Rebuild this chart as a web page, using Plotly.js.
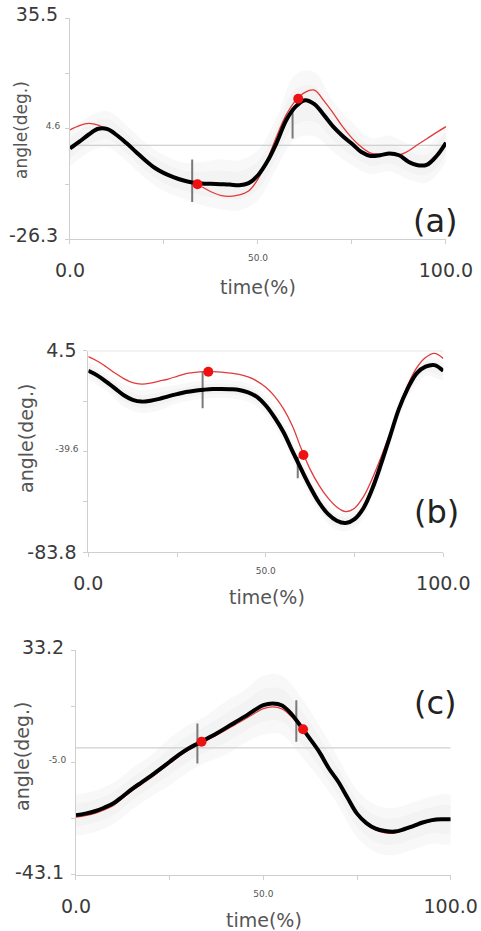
<!DOCTYPE html>
<html><head><meta charset="utf-8">
<script src="https://cdn.plot.ly/plotly-3.0.1.min.js"></script>
<style>html,body{margin:0;padding:0;background:#fff;}#chart{width:481px;height:931px;}</style>
</head><body><div id="chart"></div>
<script>
// ---------- data ----------
const timePct = [0,2.5,5,7.5,10,12.5,15,17.5,20,22.5,25,27.5,30,32.5,35,37.5,40,42.5,45,47.5,50,
                 52.5,55,57.5,60,62.5,65,67.5,70,72.5,75,77.5,80,82.5,85,87.5,90,92.5,95,97.5,100];
const sdTime = [0,5,10,15,20,25,30,35,40,45,50,55,60,65,70,75,80,85,90,95,100];

// panel (a)
const meanA = [-0.9,1.0,3.0,4.6,4.5,2.8,0.6,-1.8,-4.2,-6.3,-7.8,-8.9,-9.8,-10.4,-10.7,-10.8,-10.9,-11.0,-11.2,-10.6,-8.4,
               -4.5,0.8,7.0,10.8,12.6,11.5,8.5,5.2,2.6,0.4,-1.9,-3.0,-2.8,-2.3,-2.8,-4.6,-5.6,-5.4,-3.0,0.7];
const refA  = [4.3,5.5,6.1,5.6,4.3,2.7,0.5,-1.8,-4.1,-6.1,-7.6,-8.8,-9.8,-10.6,-11.6,-13.0,-14.0,-14.3,-13.9,-12.8,-9.5,
               -4.0,2.6,8.5,12.5,14.8,15.4,12.5,9.0,5.2,2.0,-0.5,-2.2,-2.5,-2.5,-2.7,-1.6,0.2,1.9,3.6,5.2];
const sdA   = [5,5,5,5,5,5,5,6,7,7,7,7,9,9,7,6,5,5,5,5,5];
const dotsA_x = [33.9, 60.7], dotsA_y = [-10.9, 13.0];
const barsA_x = [32.5, 59.2], barsA_lo = [-15.9, 1.9], barsA_hi = [-4.0, 10.0];

// panel (b)
const meanB = [-4.3,-6.3,-9.0,-12.0,-15.0,-17.0,-17.8,-17.4,-16.6,-15.5,-14.5,-13.6,-13.0,-12.6,-12.3,-12.3,-12.4,-12.7,-13.8,-15.7,-19.5,
               -24.8,-31.2,-39.5,-47.5,-55.2,-62.0,-67.0,-70.0,-71.0,-69.3,-64.5,-56.0,-45.0,-33.0,-21.0,-12.0,-5.4,-2.5,-1.8,-4.3];
const refB  = [1.9,0.0,-2.5,-5.3,-7.7,-9.5,-10.1,-9.7,-8.8,-7.9,-6.7,-5.5,-5.0,-4.7,-4.7,-4.9,-5.3,-5.9,-7.0,-8.8,-11.5,
               -15.5,-21.0,-28.5,-38.5,-47.5,-54.5,-60.0,-64.0,-66.0,-64.5,-59.5,-51.5,-42.0,-31.7,-20.5,-10.5,-3.0,1.5,3.3,1.1];
const sdB   = [4,4,5,5,5,4,4,4,4,4,4,4,4,4,4,4,4,4,4,4,4];
const dotsB_x = [33.8, 60.6], dotsB_y = [-4.7, -41.2];
const barsB_x = [32.2, 59.0], barsB_lo = [-20.7, -51.4], barsB_hi = [-4.7, -41.9];

// panel (c)
const meanC = [-22.8,-22.3,-21.5,-20.3,-18.8,-16.4,-13.9,-11.7,-9.5,-7.1,-4.7,-2.3,-0.2,1.5,3.2,4.9,6.8,8.7,10.6,12.7,14.5,
               15.1,14.4,11.5,7.3,3.0,-1.5,-7.0,-11.5,-17.0,-22.3,-25.5,-27.4,-28.2,-28.4,-27.6,-26.5,-25.3,-24.5,-24.2,-24.2];
const refC  = [-23.5,-23.0,-22.2,-21.0,-19.5,-17.0,-14.5,-12.3,-10.1,-7.7,-5.3,-2.9,-0.8,1.0,2.6,4.3,6.1,7.9,9.7,11.6,13.3,
               13.9,13.2,10.6,6.8,2.6,-1.8,-7.2,-11.7,-17.2,-22.5,-25.9,-27.9,-28.8,-28.9,-28.0,-26.9,-25.6,-24.8,-24.4,-24.3];
const sdC   = [7,7,7,7,7,8,8,8,9,9,10,10,10,9,8,8,8,8,8,8,8];
const dotsC_x = [33.5, 60.6], dotsC_y = [2.1, 6.3];
const barsC_x = [32.4, 58.8], barsC_lo = [-5.3, 2.1], barsC_hi = [8.3, 16.2];

// axes ranges and tick labels
const rangesY = [[-26.3, 35.5], [-83.8, 4.5], [-43.1, 33.2]];
const yEndLabels = [['-26.3','35.5'], ['-83.8','4.5'], ['-43.1','33.2']];
const yMidLabels = ['4.6', '-39.6', '-5.0'];
const xEndLabels = ['0.0', '100.0'];
const xMidLabel = '50.0';
const refLines = [0, 4.5, 0];
const panelLabels = ['(a)', '(b)', '(c)'];
const xTitle = 'time(%)', yTitle = 'angle(deg.)';

// ---------- figure ----------
const FONT = 'DejaVu Sans, Liberation Sans, sans-serif';
const AXC = '#cfcfcf';
const panels = [
  {mean: meanA, ref: refA, sd: sdA, dx: dotsA_x, dy: dotsA_y, bx: barsA_x, blo: barsA_lo, bhi: barsA_hi,
   xd: [0.1455, 0.9272], yd: [0.7430, 0.9803], shift: -4, ytitle: [0.0437, 0.8604, 17], xt: [0.5364, 0.6917], pl: [0.9064, 0.7626]},
  {mean: meanB, ref: refB, sd: sdB, dx: dotsB_x, dy: dotsB_y, bx: barsB_x, blo: barsB_lo, bhi: barsB_hi,
   xd: [0.1836, 0.9216], yd: [0.4068, 0.6233], shift: 0, ytitle: [0.0541, 0.5285, 19], xt: [0.5551, 0.3588], pl: [0.9085, 0.4501]},
  {mean: meanC, ref: refC, sd: sdC, dx: dotsC_x, dy: dotsC_y, bx: barsC_x, blo: barsC_lo, bhi: barsC_hi,
   xd: [0.1580, 0.9370], yd: [0.0602, 0.3018], shift: -3, ytitle: [0.0457, 0.1880, 19], xt: [0.5489, 0.0118], pl: [0.9044, 0.2449]}
];

const data = [];
const layout = {
  width: 481, height: 931, margin: {l: 0, r: 0, t: 0, b: 0},
  paper_bgcolor: '#fff', plot_bgcolor: 'rgba(0,0,0,0)', showlegend: false,
  font: {family: FONT, color: '#444'}, shapes: [], annotations: []
};

panels.forEach((p, i) => {
  const n = i + 1, sfx = n === 1 ? '' : String(n);
  const xa = 'x' + sfx, ya = 'y' + sfx;
  const sx = String(n + 3);
  const r = rangesY[i];

  // band (mean ± sd), two soft layers
  const bandX = sdTime.concat(sdTime.slice().reverse());
  [[1.0, 'rgba(205,205,205,0.14)'], [0.55, 'rgba(205,205,205,0.13)']].forEach(([f, col]) => {
    const up = sdTime.map((t, k) => p.mean[timePct.indexOf(t)] + p.sd[k] * f);
    const lo = sdTime.map((t, k) => p.mean[timePct.indexOf(t)] - p.sd[k] * f);
    data.push({type: 'scatter', x: bandX, y: up.concat(lo.slice().reverse()), xaxis: xa, yaxis: ya,
      mode: 'lines', fill: 'toself', fillcolor: col, line: {width: 0, shape: 'spline'}, hoverinfo: 'skip'});
  });

  // event bars
  const bxs = [], bys = [];
  p.bx.forEach((xv, k) => { bxs.push(xv, xv, null); bys.push(p.blo[k], p.bhi[k], null); });
  data.push({type: 'scatter', x: bxs, y: bys, xaxis: xa, yaxis: ya, mode: 'lines',
    line: {color: '#7a7a7a', width: 2}, hoverinfo: 'skip'});

  // reference (red) and mean (black)
  data.push({type: 'scatter', x: timePct, y: p.ref, xaxis: xa, yaxis: ya, mode: 'lines',
    line: {color: '#e23a3a', width: 1.3, shape: 'spline'}});
  data.push({type: 'scatter', x: timePct, y: p.mean, xaxis: xa, yaxis: ya, mode: 'lines',
    line: {color: '#000', width: 4, shape: 'spline'}});
  data.push({type: 'scatter', x: p.dx, y: p.dy, xaxis: xa, yaxis: ya, mode: 'markers',
    marker: {color: '#ee1111', size: 10}});

  const quarter = (r[1] - r[0]) / 4;
  layout['xaxis' + sfx] = {domain: p.xd, anchor: ya, range: [0, 100], showgrid: false, zeroline: false,
    showline: true, linecolor: AXC, linewidth: 1, ticks: 'outside', ticklen: 4, tickcolor: AXC,
    tickvals: [0, 100], ticktext: xEndLabels, tickfont: {family: FONT, size: 19, color: '#3a3a3a'},
    ticklabelstandoff: 10, fixedrange: true};
  layout['yaxis' + sfx] = {domain: p.yd, anchor: xa, range: r, showgrid: false, zeroline: false,
    showline: true, linecolor: AXC, linewidth: 1, ticks: 'outside', ticklen: 4, tickcolor: AXC,
    tickvals: r, ticktext: yEndLabels[i], tickfont: {family: FONT, size: 19, color: '#3a3a3a'},
    ticklabelstandoff: 3, ticklabelshift: p.shift, fixedrange: true};
  layout['xaxis' + sx] = {overlaying: xa, anchor: ya, range: [0, 100], showgrid: false, zeroline: false,
    showline: false, ticks: 'outside', ticklen: 4, tickcolor: AXC,
    tickvals: [25, 50, 75], ticktext: ['', xMidLabel, ''], tickfont: {family: FONT, size: 9, color: '#555'},
    ticklabelstandoff: 6, fixedrange: true};
  layout['yaxis' + sx] = {overlaying: ya, anchor: xa, range: r, showgrid: false, zeroline: false,
    showline: false, ticks: 'outside', ticklen: 4, tickcolor: AXC,
    tickvals: [r[0] + quarter, r[0] + 2 * quarter, r[0] + 3 * quarter], ticktext: ['', yMidLabels[i], ''],
    tickfont: {family: FONT, size: 9, color: '#555'}, ticklabelstandoff: 3, ticklabelshift: -3, fixedrange: true};
  data.push({type: 'scatter', x: [null], y: [null], xaxis: 'x' + sx, yaxis: ya, hoverinfo: 'skip', showlegend: false});
  data.push({type: 'scatter', x: [null], y: [null], xaxis: xa, yaxis: 'y' + sx, hoverinfo: 'skip', showlegend: false});

  layout.shapes.push({type: 'line', xref: xa, yref: ya, x0: 0, x1: 100, y0: refLines[i], y1: refLines[i],
    line: {color: '#c4c4c4', width: 1}, layer: 'below'});

  layout.annotations.push({xref: 'paper', yref: 'paper', x: p.ytitle[0], y: p.ytitle[1], text: yTitle,
    textangle: -90, showarrow: false, xanchor: 'center', yanchor: 'middle',
    font: {family: FONT, size: p.ytitle[2], color: '#555'}});
  layout.annotations.push({xref: 'paper', yref: 'paper', x: p.xt[0], y: p.xt[1], text: xTitle,
    showarrow: false, xanchor: 'center', yanchor: 'middle', font: {family: FONT, size: 19, color: '#555'}});
  layout.annotations.push({xref: 'paper', yref: 'paper', x: p.pl[0], y: p.pl[1], text: panelLabels[i],
    showarrow: false, xanchor: 'center', yanchor: 'middle', font: {family: FONT, size: 32, color: '#222'}});
});

Plotly.newPlot('chart', data, layout, {staticPlot: true, displayModeBar: false});
</script></body></html>
